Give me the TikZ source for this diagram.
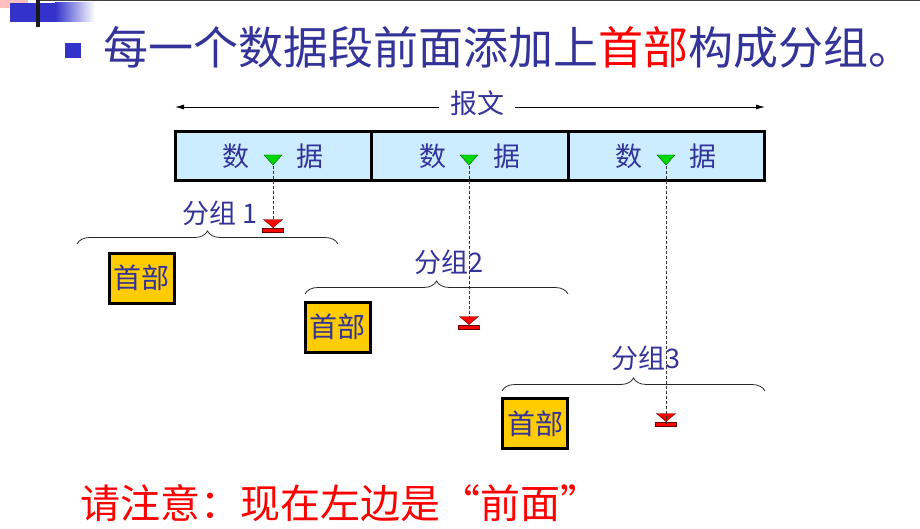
\documentclass[tikz,border=0pt]{standalone}
\usepackage{fontspec}
\setmainfont{Noto Sans CJK SC}
\usepackage{tikz}
\usetikzlibrary{shapes.geometric, arrows.meta, positioning, decorations.pathreplacing}
\usepackage{xcolor}
\definecolor{txtblue}{HTML}{333399}
\definecolor{bulblue}{HTML}{3333CC}
\definecolor{segblue}{HTML}{CCECFF}
\definecolor{hdryellow}{HTML}{FFCC00}

\begin{document}
\begin{tikzpicture}[x=1pt, y=-1pt,
    seg/.style   = {rectangle, draw=black, line width=3pt, fill=segblue, minimum width=196.5pt, minimum height=49pt, inner sep=0pt, text=txtblue, font=\fontsize{27}{27}\selectfont},
    hdr/.style   = {rectangle, draw=black, line width=3pt, fill=hdryellow, minimum width=65pt, minimum height=50pt, inner sep=0pt, text=txtblue, font=\fontsize{28}{28}\selectfont},
    gmark/.style = {isosceles triangle, isosceles triangle stretches, shape border rotate=-90, draw=green!35!black, fill=green!85!black, inner sep=0pt, minimum height=10pt, minimum width=18pt},
    rmark/.style = {isosceles triangle, isosceles triangle stretches, shape border rotate=-90, draw=red!40!black, fill=red, inner sep=0pt, minimum height=8pt, minimum width=19pt},
    rbar/.style  = {rectangle, draw=red!40!black, fill=red, inner sep=0pt, minimum width=21pt, minimum height=3.5pt},
    drop/.style  = {draw=black!80, densely dashed, line width=0.8pt},
    grpbrace/.style = {decorate, decoration={brace, amplitude=13pt}, draw=black!85, line width=0.8pt},
    lbl/.style   = {text=txtblue, inner sep=0pt, font=\fontsize{27}{27}\selectfont},
    msgline/.style = {draw=black, line width=0.8pt, -{Latex[length=9pt, width=5pt]}}
]
\useasboundingbox (0,0) rectangle (920,529);

% Slide decoration
\fill [red!25] (0,0) rectangle (28,8);
\shade [left color=bulblue, right color=white] (55,3) rectangle (95,22);
\fill [bulblue] (10,3) rectangle (55,22);
\fill [black!75] (36,0) rectangle (920,1.5);
\fill [black!90] (36,0) rectangle (40,27);

% Title
\fill [bulblue] (65,43) rectangle (81,58);
\node (title) [anchor=west, inner sep=0pt, text=txtblue, font=\fontsize{45}{45}\selectfont] at (103,47) {每一个数据段前面添加上\textcolor{red}{首部}构成分组。};

% Message
\node (msg) [text=txtblue, inner sep=0pt, font=\fontsize{27}{27}\selectfont] at (477,103) {报文};
\coordinate (msgL) at (175,107);
\coordinate (msgR) at (765,107);
\draw [msgline] (msg.west |- msgL) ++(-11,0) -- (msgL);
\draw [msgline] (msg.east |- msgR) ++(11,0) -- (msgR);

% Data segments
\node (s1) [seg] at (273.25,156) {数\hspace{47pt}据};
\node (s2) [seg] at (469.75,156) {数\hspace{47pt}据};
\node (s3) [seg] at (666.25,156) {数\hspace{47pt}据};

% Split marks
\node (g1) [gmark] at (273,159) {};
\node (g2) [gmark] at (469,159) {};
\node (g3) [gmark] at (666,159) {};

\node (r1) [rmark] at (273,223) {};
\node (r2) [rmark] at (469,320) {};
\node (r3) [rmark] at (666,417) {};
\node (b1) [rbar, below=0pt of r1.apex] {};
\node (b2) [rbar, below=0pt of r2.apex] {};
\node (b3) [rbar, below=0pt of r3.apex] {};

\draw [drop] (g1.apex) -- (b1.center);
\draw [drop] (g2.apex) -- (b2.center);
\draw [drop] (g3.apex) -- (b3.center);

% Packets
\draw [grpbrace] (77,244) -- (338,244);
\draw [grpbrace] (305,294) -- (568,294);
\draw [grpbrace] (502,391) -- (765,391);

\node (p1) [lbl] at (220,213) {分组 1};
\node (p2) [lbl] at (449,262) {分组2};
\node (p3) [lbl] at (646,358) {分组3};

\node (h1) [hdr] at (141.5,278) {首部};
\node (h2) [hdr] at (337.5,327) {首部};
\node (h3) [hdr] at (535,423.5) {首部};

% Note
\node (note) [anchor=west, inner sep=0pt, text=red, font=\fontsize{40}{40}\selectfont] at (80,503) {请注意：现在左边是“前面”};

\end{tikzpicture}
\end{document}
